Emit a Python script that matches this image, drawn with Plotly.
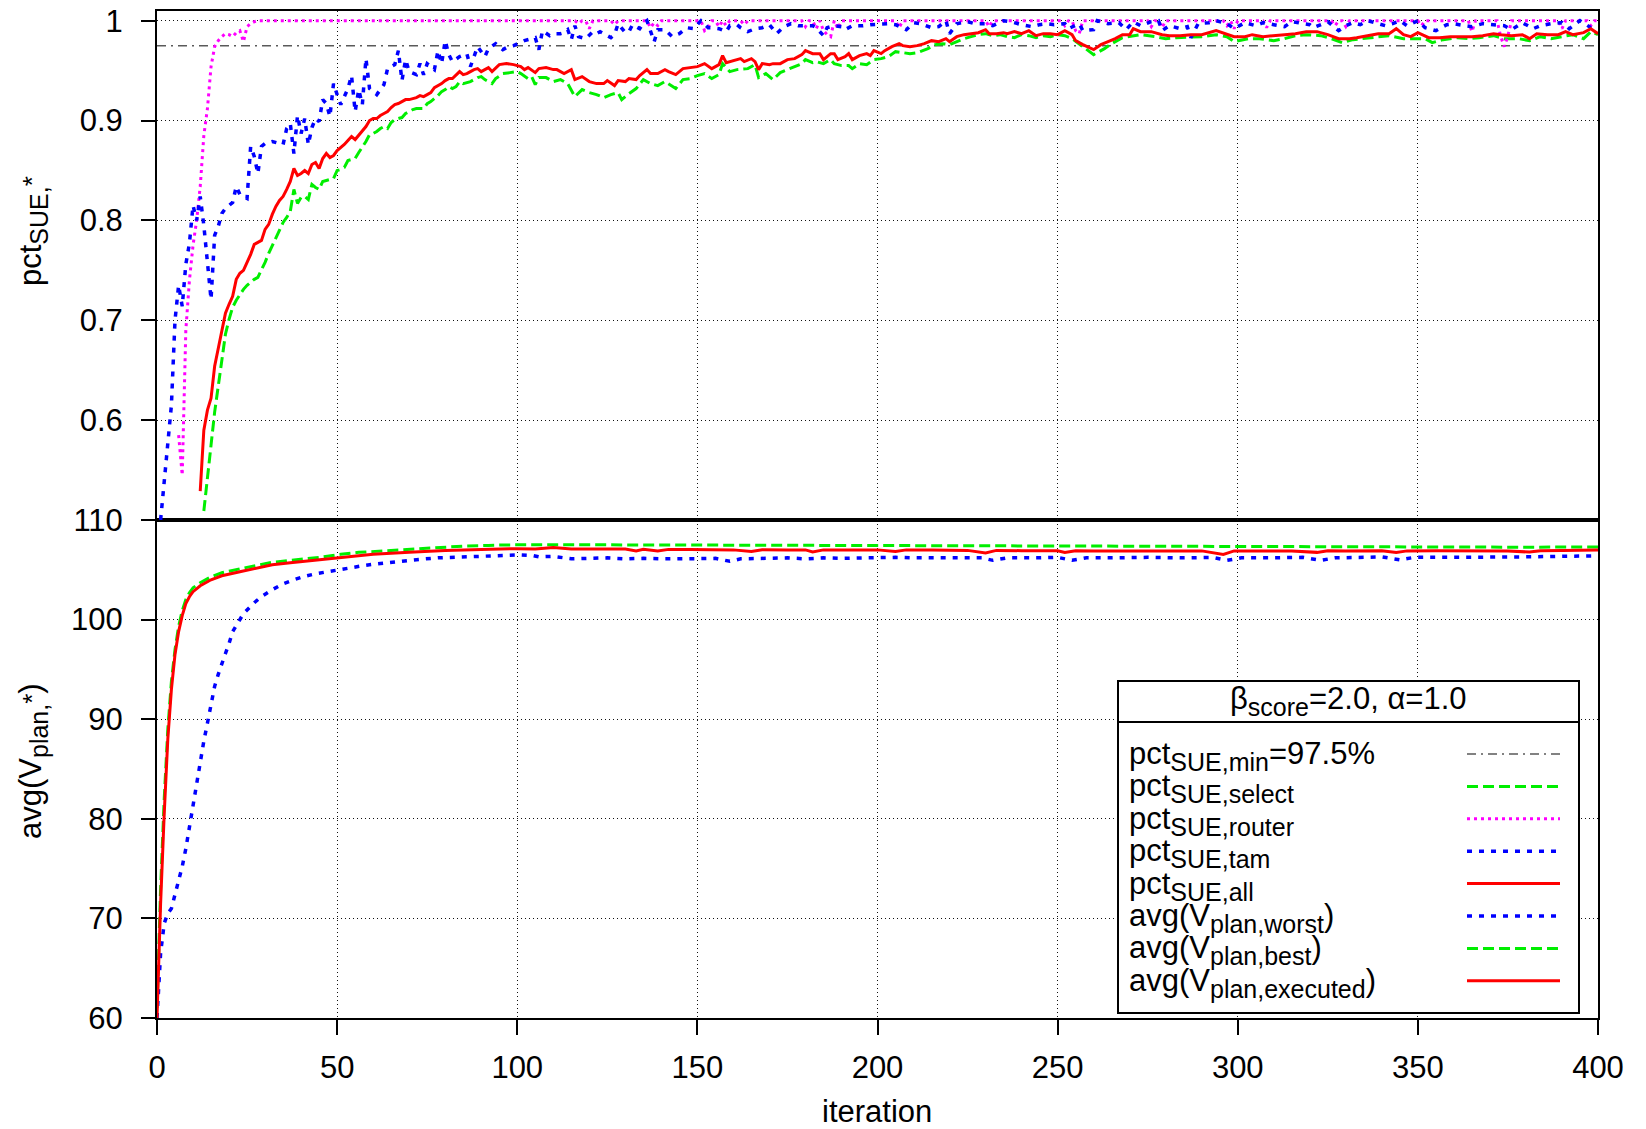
import plotly.graph_objects as go

# ---------------- data ----------------
pct_min = 0.975

iter_tam = [1,2,3,4,5,6,7,8,9,10,
    11,12,13,14,15,16,17,18,19,20,
    21,22,23,24,25,26,27,28,29,30,
    32,34,35,36,37,38,39,40,41,42,
    43,44,45,46,47,48,49,50,51,52,
    53,54,55,56,57,58,59,61,63,64,
    66,67,68,69,70,72,73,74,75,77,
    78,79,80,81,82,84,86,87,89,91,
    92,94,96,97,99,102,104,105,106,107,
    109,110,112,113,114,115,116,117,119,121,
    122,123,125,126,127,128,130,131,132,134,
    135,136,138,139,141,143,145,147,149,151,
    153,154,156,158,159,161,162,164,166,168,
    170,172,174,176,178,180,182,183,185,186,
    188,190,191,193,196,198,201,203,205,208,
    210,212,215,217,219,220,222,225,227,230,
    232,235,237,240,243,245,247,249,252,253,
    256,257,260,261,264,267,269,271,273,276,
    278,279,281,284,286,287,289,292,294,297,
    299,302,305,307,310,313,315,318,320,321,
    323,325,328,330,332,334,336,339,341,343,
    345,347,350,352,355,358,360,363,365,368,
    371,374,376,379,382,384,387,390,392,395,
    398,400]
pct_tam = [0.500,0.541,0.577,0.615,0.700,0.735,0.714,0.756,0.777,0.815,
    0.800,0.824,0.795,0.761,0.721,0.785,0.794,0.807,0.812,0.815,
    0.818,0.834,0.826,0.824,0.822,0.874,0.864,0.847,0.874,0.877,
    0.879,0.877,0.876,0.892,0.897,0.867,0.905,0.887,0.902,0.876,
    0.893,0.902,0.899,0.921,0.917,0.904,0.937,0.926,0.916,0.924,
    0.932,0.945,0.909,0.931,0.916,0.962,0.932,0.926,0.936,0.952,
    0.956,0.970,0.940,0.961,0.949,0.946,0.957,0.946,0.957,0.951,
    0.970,0.957,0.980,0.966,0.959,0.964,0.967,0.954,0.974,0.964,
    0.972,0.977,0.971,0.973,0.975,0.980,0.982,0.983,0.971,0.990,
    0.985,0.987,0.987,0.988,0.991,0.981,0.995,0.984,0.982,0.989,
    0.987,0.989,0.985,0.983,0.986,0.997,0.988,0.989,0.996,0.992,
    0.997,1.000,0.979,0.991,0.991,0.984,0.987,0.993,0.992,1.000,
    0.993,0.993,0.992,0.989,0.995,0.996,0.993,0.989,0.992,0.993,
    0.996,0.987,0.994,0.997,0.995,0.995,0.995,0.993,0.985,0.993,
    0.995,0.994,0.991,0.995,0.995,0.996,0.997,0.997,0.996,0.991,
    0.998,0.997,0.993,0.994,1.000,0.987,0.997,0.999,0.997,0.997,
    0.995,1.000,0.999,0.996,0.994,0.996,0.997,0.996,0.997,0.992,
    0.997,0.990,0.991,1.000,0.997,0.998,0.991,0.999,0.995,0.999,
    1.000,0.990,0.995,0.992,0.994,0.983,0.997,0.998,1.000,0.997,
    0.992,0.998,0.995,0.998,0.996,0.994,0.999,0.997,0.996,0.993,
    0.996,0.999,0.990,0.995,0.998,0.996,1.000,0.997,0.995,0.997,
    1.000,0.995,1.000,0.993,0.990,0.996,0.997,0.995,0.994,0.997,
    0.996,0.995,0.991,0.998,0.992,0.995,0.997,0.998,0.992,1.000,
    0.993,0.995]

iter_router = [6,7,8,9,10,11,12,13,14,15,16,17,18,19,20,21,22,23,24,25,26,27,28,
    116,117,118,119,120,121, 126,127,128, 136,137,138,139,140,
    151,152,153,154,155,156,157,158,159, 162,163,164,
    179,180,181,182,183,184,185,186,187,188,189,190,
    205,206,207, 230,231,232, 251,252,253,254,255,256,257,258,
    275,276,277,278,279,280, 295,296,297,298,299,300, 307,308,309,
    326,327,328,329,330,331,332, 350,351,352, 364,365,366,
    371,372,373,374,375,376,377, 389,390,391, 397,398,399,400]
pct_router = [0.585,0.545,0.690,0.740,0.775,0.800,0.834,0.885,0.912,0.954,0.974,0.980,0.984,0.987,0.986,0.984,0.988,0.990,0.979,0.994,0.997,0.999,1.0,
    1.0,0.997,1.0,1.0,0.992,1.0, 1.0,0.996,1.0, 1.0,0.993,0.998,0.995,1.0,
    1.0,0.990,0.993,1.0,1.0,0.994,1.0,0.995,1.0, 1.0,0.996,1.0,
    1.0,0.994,1.0,1.0,0.992,1.0,0.990,0.986,0.984,1.0,0.992,1.0,
    1.0,0.993,1.0, 1.0,0.994,1.0, 1.0,0.995,1.0,1.0,0.990,0.987,1.0,1.0,
    1.0,0.994,1.0,1.0,0.993,1.0, 1.0,1.0,0.995,1.0,0.992,1.0, 1.0,0.993,1.0,
    1.0,0.995,1.0,1.0,0.994,1.0,1.0, 1.0,0.995,1.0, 1.0,0.989,1.0,
    1.0,1.0,0.984,0.974,0.985,1.0,1.0, 1.0,0.992,1.0, 1.0,0.995,1.0,1.0]

iter_all = [12,13,14,15,16,17,18,19,20,21,
    22,23,24,25,26,27,28,29,30,31,
    32,33,34,35,36,37,38,39,40,41,
    42,43,44,45,46,47,48,49,50,51,
    52,53,54,55,56,57,58,59,60,61,
    62,63,64,65,66,67,68,69,70,71,
    72,73,74,75,76,77,78,79,80,81,
    82,83,84,85,86,87,88,89,90,91,
    92,93,95,97,99,101,102,103,105,106,
    108,110,111,113,115,116,118,120,122,124,
    125,127,128,130,131,133,134,136,137,139,
    141,142,144,146,148,150,152,154,156,157,
    158,160,162,163,165,166,167,168,170,171,
    173,175,177,179,180,182,184,185,187,188,
    189,191,192,193,195,197,198,199,201,202,
    204,206,207,209,211,213,215,217,219,220,
    222,224,226,228,230,231,233,235,236,238,
    240,242,244,246,248,250,252,254,255,257,
    260,262,264,266,268,270,271,273,276,279,
    281,284,287,290,294,297,299,302,304,307,
    311,313,316,319,322,325,328,331,333,336,
    339,342,344,346,348,350,353,356,359,362,
    365,368,371,373,376,379,381,383,386,389,
    391,393,396,398,400]
pct_all = [0.529,0.590,0.610,0.622,0.654,0.672,0.692,0.707,0.716,0.724,
    0.741,0.747,0.750,0.758,0.766,0.776,0.778,0.780,0.791,0.796,
    0.806,0.814,0.820,0.824,0.831,0.839,0.852,0.845,0.847,0.850,
    0.847,0.856,0.858,0.852,0.862,0.867,0.863,0.865,0.870,0.873,
    0.876,0.880,0.884,0.881,0.885,0.889,0.894,0.900,0.902,0.902,
    0.905,0.907,0.909,0.913,0.916,0.917,0.919,0.921,0.921,0.922,
    0.923,0.925,0.924,0.926,0.928,0.933,0.935,0.937,0.940,0.942,
    0.942,0.946,0.949,0.946,0.947,0.949,0.951,0.952,0.949,0.951,
    0.953,0.949,0.956,0.957,0.956,0.954,0.951,0.953,0.948,0.952,
    0.953,0.951,0.951,0.947,0.951,0.941,0.944,0.939,0.937,0.937,
    0.940,0.935,0.940,0.939,0.942,0.941,0.945,0.951,0.947,0.947,
    0.951,0.949,0.946,0.952,0.953,0.954,0.957,0.952,0.956,0.965,
    0.958,0.960,0.962,0.959,0.962,0.959,0.951,0.957,0.956,0.957,
    0.957,0.961,0.962,0.966,0.970,0.967,0.967,0.961,0.967,0.967,
    0.961,0.964,0.967,0.961,0.965,0.967,0.965,0.970,0.967,0.970,
    0.974,0.977,0.975,0.974,0.975,0.977,0.980,0.979,0.982,0.979,
    0.984,0.986,0.987,0.988,0.991,0.987,0.987,0.988,0.987,0.989,
    0.987,0.990,0.985,0.987,0.987,0.986,0.990,0.986,0.980,0.976,
    0.971,0.976,0.979,0.982,0.986,0.986,0.992,0.989,0.989,0.986,
    0.985,0.985,0.986,0.986,0.990,0.986,0.984,0.984,0.986,0.984,
    0.985,0.986,0.987,0.989,0.989,0.986,0.982,0.982,0.983,0.985,
    0.987,0.987,0.992,0.986,0.984,0.988,0.983,0.983,0.984,0.984,
    0.984,0.985,0.987,0.986,0.985,0.986,0.982,0.987,0.986,0.986,
    0.989,0.986,0.988,0.992,0.987]

iter_select = [13,14,15,16,17,18,19,20,21,22,
    23,24,25,26,27,28,29,30,31,32,
    33,34,35,36,37,38,39,40,41,42,
    43,44,45,46,47,48,49,50,51,52,
    53,54,55,56,57,58,59,60,61,62,
    63,64,65,66,67,68,69,70,71,72,
    73,74,75,76,77,78,79,80,81,82,
    83,84,85,86,87,88,89,90,91,92,
    93,94,96,98,100,101,103,104,105,106,
    108,110,112,114,116,118,120,122,124,126,
    128,129,131,133,135,137,139,141,144,146,
    148,150,152,154,156,157,159,161,164,166,
    167,169,171,173,175,177,179,180,182,183,
    185,187,188,190,192,193,195,197,199,201,
    203,205,207,209,211,213,214,216,218,220,
    222,224,226,228,230,232,234,236,238,240,
    242,244,246,248,250,252,254,257,260,263,
    265,268,271,273,277,280,283,287,290,294,
    297,299,303,306,310,313,316,319,323,326,
    329,332,335,339,342,346,349,352,354,357,
    361,364,367,371,374,378,381,384,387,390,
    393,396,398,400]
pct_select = [0.509,0.545,0.575,0.608,0.635,0.663,0.686,0.701,0.713,0.720,
    0.726,0.731,0.735,0.738,0.741,0.743,0.750,0.758,0.767,0.775,
    0.782,0.791,0.798,0.803,0.809,0.831,0.817,0.823,0.824,0.821,
    0.836,0.833,0.831,0.839,0.840,0.841,0.842,0.850,0.851,0.853,
    0.860,0.861,0.862,0.868,0.873,0.879,0.886,0.887,0.889,0.892,
    0.894,0.892,0.898,0.901,0.902,0.903,0.907,0.909,0.911,0.912,
    0.912,0.912,0.917,0.919,0.922,0.925,0.929,0.931,0.934,0.932,
    0.934,0.939,0.937,0.938,0.939,0.941,0.943,0.944,0.941,0.939,
    0.937,0.942,0.947,0.948,0.949,0.947,0.942,0.944,0.936,0.943,
    0.943,0.939,0.941,0.937,0.924,0.931,0.928,0.926,0.923,0.926,
    0.928,0.921,0.927,0.932,0.941,0.937,0.935,0.939,0.932,0.941,
    0.942,0.945,0.947,0.942,0.946,0.957,0.949,0.951,0.952,0.956,
    0.943,0.947,0.941,0.948,0.951,0.954,0.957,0.961,0.958,0.959,
    0.957,0.961,0.957,0.955,0.955,0.952,0.957,0.956,0.961,0.962,
    0.964,0.969,0.968,0.967,0.968,0.971,0.972,0.976,0.977,0.976,
    0.979,0.982,0.984,0.986,0.987,0.985,0.986,0.984,0.983,0.986,
    0.985,0.983,0.985,0.984,0.986,0.985,0.982,0.974,0.966,0.972,
    0.977,0.983,0.985,0.986,0.984,0.982,0.983,0.984,0.984,0.986,
    0.984,0.979,0.982,0.982,0.980,0.982,0.985,0.986,0.985,0.982,
    0.978,0.981,0.982,0.984,0.985,0.982,0.982,0.982,0.978,0.981,
    0.983,0.982,0.983,0.985,0.982,0.982,0.980,0.984,0.982,0.984,
    0.986,0.982,0.989,0.986]

iter_exec = [0,1,2,3,4,5,6,7,8,9,10,
    12,15,18,23,28,32,37,42,46,51,60,70,80,90,97,
    100,105,110,115,120,125,130,133,135,139,
    142,148,155,160,165,168,175,180,182,185,
    190,195,200,205,208,215,220,225,230,233,
    240,245,250,252,255,260,270,280,290,296,
    299,305,310,315,322,325,330,335,340,344,
    347,355,360,370,375,381,384,390,395,400]
v_exec = [60.0,71.5,80.5,88.0,93.0,96.5,98.8,100.4,101.6,102.3,102.8,
    103.4,104.0,104.4,104.8,105.2,105.5,105.7,105.9,106.05,106.25,106.55,106.75,106.95,107.05,107.12,
    107.12,107.1,107.25,107.1,107.1,107.05,107.08,106.9,107.05,106.9,
    107.05,107.05,107.05,107.0,106.85,107.02,107.0,107.0,106.8,107.0,
    107.0,106.98,107.0,106.85,107.0,106.98,107.0,106.95,106.7,106.95,
    106.92,106.9,106.92,106.75,106.92,106.9,106.92,106.9,106.9,106.55,
    106.9,106.9,106.92,106.9,106.75,106.92,106.9,106.9,106.92,106.75,
    106.9,106.92,106.9,106.92,106.9,106.78,106.92,106.95,106.95,107.0]

iter_best = [0,1,2,3,4,5,6,7,8,9,10,
    12,15,18,23,28,32,37,40,45,51,56,63,70,74,80,86,92,97,
    110,130,150,170,190,200,220,240,260,280,300,320,340,360,380,400]
v_best = [61.0,73.0,82.0,89.0,93.8,97.0,99.3,100.9,102.0,102.7,103.2,
    103.7,104.3,104.7,105.1,105.5,105.75,105.95,106.05,106.25,106.55,106.75,106.9,107.05,107.2,107.3,107.4,107.45,107.5,
    107.52,107.5,107.5,107.48,107.45,107.42,107.4,107.4,107.38,107.35,107.3,107.3,107.28,107.25,107.27,107.3]

iter_worst = [0,1,2,3,4,5,6,7,8,9,10,11,12,13,14,15,16,17,18,19,20,21,22,
    24,27,29,32,35,38,41,44,47,50,
    54,57,60,66,72,78,85,92,97,101,
    104,106,110,115,120,125,130,135,140,145,
    150,155,159,162,168,175,180,185,190,195,
    200,205,210,215,220,225,229,232,236,245,
    250,254,258,265,275,285,293,297,301,310,
    318,323,327,335,340,345,349,360,370,380,
    390,400]
v_worst = [60.0,66.5,69.5,70.5,71.0,72.3,73.8,75.2,77.0,79.2,81.2,83.8,86.0,87.8,89.6,91.6,93.3,94.5,95.7,96.6,97.6,98.8,99.4,
    100.6,101.7,102.3,103.0,103.6,104.0,104.35,104.6,104.8,104.95,
    105.2,105.4,105.55,105.8,106.02,106.2,106.3,106.4,106.5,106.5,
    106.45,106.3,106.35,106.1,106.15,106.2,106.1,106.15,106.1,106.15,
    106.12,106.15,105.85,106.1,106.15,106.2,106.1,106.2,106.15,106.2,
    106.2,106.25,106.2,106.2,106.2,106.25,106.2,105.95,106.2,106.2,
    106.25,105.95,106.2,106.2,106.25,106.2,106.25,105.95,106.2,106.2,
    106.25,105.95,106.2,106.25,106.3,106.0,106.25,106.25,106.25,106.3,
    106.35,106.4]

x_ticks = [0, 50, 100, 150, 200, 250, 300, 350, 400]
top_ticks = [0.6, 0.7, 0.8, 0.9, 1.0]
top_ticktext = ["0.6", "0.7", "0.8", "0.9", "1"]
bot_ticks = [60, 70, 80, 90, 100, 110]

SUB = '<sub><span style="font-size:25px">%s</span></sub>'
STAR = '<span style="font-size:26px">*</span>'
legend_title = "β" + SUB % "score" + "=2.0, α=1.0"
legend_labels = ["pct" + SUB % "SUE,min" + "=97.5%", "pct" + SUB % "SUE,select",
                 "pct" + SUB % "SUE,router", "pct" + SUB % "SUE,tam", "pct" + SUB % "SUE,all",
                 "avg(V" + SUB % "plan,worst" + ")", "avg(V" + SUB % "plan,best" + ")",
                 "avg(V" + SUB % "plan,executed" + ")"]
title_top = "pct" + SUB % "SUE," + STAR
title_bot = "avg(V" + SUB % "plan," + STAR + ")"

for a, b in [(iter_tam, pct_tam), (iter_router, pct_router), (iter_all, pct_all),
             (iter_select, pct_select), (iter_exec, v_exec), (iter_best, v_best),
             (iter_worst, v_worst)]:
    assert len(a) == len(b), (len(a), len(b))

# ---------------- styles ----------------
FONT = "Liberation Sans, Arial, Helvetica, sans-serif"
FS = 31
S_MIN = dict(color="#5a5a5a", width=1.5, dash="9px,5px,2px,5px")
S_SEL = dict(color="#00ee00", width=3, dash="11px,5px")
S_ROU = dict(color="#ff00ff", width=3, dash="3px,4px")
S_TAM = dict(color="#0000ff", width=3.5, dash="5px,7px")
S_ALL = dict(color="#ff0000", width=3)
legend_styles = [S_MIN, S_SEL, S_ROU, S_TAM, S_ALL, S_TAM, S_SEL, S_ALL]

# page is rendered with the browser's 8px body margin
PAGE_W, PAGE_H, BODY = 1646, 1129, 8
W, H = PAGE_W - BODY, PAGE_H - BODY
ML, MR, MT, MB = 157 - BODY, PAGE_W - 1598, 11 - BODY, PAGE_H - 1018
PW, PH = W - ML - MR, H - MT - MB


def px(x):  # page pixel -> paper x
    return (x - BODY - ML) / PW


def py(y):  # page pixel -> paper y
    return (H - MB - (y - BODY)) / PH


split = py(520)

fig = go.Figure()
# top panel (x2, y2)
fig.add_trace(go.Scatter(x=[x_ticks[0], x_ticks[-1]], y=[pct_min, pct_min], mode="lines",
                         line=S_MIN, xaxis="x2", yaxis="y2"))
fig.add_trace(go.Scatter(x=iter_select, y=pct_select, mode="lines", line=S_SEL, xaxis="x2", yaxis="y2"))
fig.add_trace(go.Scatter(x=iter_router, y=pct_router, mode="lines", line=S_ROU, xaxis="x2", yaxis="y2"))
fig.add_trace(go.Scatter(x=iter_tam, y=pct_tam, mode="lines", line=S_TAM, xaxis="x2", yaxis="y2"))
fig.add_trace(go.Scatter(x=iter_all, y=pct_all, mode="lines", line=S_ALL, xaxis="x2", yaxis="y2"))
# bottom panel (x, y)
fig.add_trace(go.Scatter(x=iter_worst, y=v_worst, mode="lines", line=S_TAM, xaxis="x", yaxis="y"))
fig.add_trace(go.Scatter(x=iter_best, y=v_best, mode="lines", line=S_SEL, xaxis="x", yaxis="y"))
fig.add_trace(go.Scatter(x=iter_exec, y=v_exec, mode="lines", line=S_ALL, xaxis="x", yaxis="y"))

grid = dict(showgrid=True, gridcolor="#111111", gridwidth=1, griddash="1px,3px",
            zeroline=False, showline=True, linecolor="black", linewidth=2, mirror=True,
            automargin=False)
tickfont = dict(family=FONT, size=FS, color="black")

fig.update_layout(
    width=W, height=H, margin=dict(l=ML, r=MR, t=MT, b=MB, autoexpand=False),
    paper_bgcolor="white", plot_bgcolor="white", showlegend=False,
    font=dict(family=FONT, size=FS, color="black"),
    xaxis=dict(domain=[0, 1], anchor="y", range=[0, 400], tickvals=x_ticks,
               ticks="outside", ticklen=15, tickwidth=2, tickcolor="black",
               tickfont=tickfont, ticklabelstandoff=6, ticklabeloverflow="allow", **grid),
    xaxis2=dict(domain=[0, 1], anchor="y2", range=[0, 400], matches="x", tickvals=x_ticks,
                showticklabels=False, ticks="", **grid),
    yaxis=dict(domain=[0, split], anchor="x", range=[60, 110], tickvals=bot_ticks,
               ticks="outside", ticklen=14, tickwidth=2, tickcolor="black",
               tickfont=tickfont, ticklabelstandoff=12, ticklabeloverflow="allow", **grid),
    yaxis2=dict(domain=[split, 1], anchor="x2", range=[0.5, 1.0097], tickvals=top_ticks,
                ticktext=top_ticktext, ticks="outside", ticklen=14, tickwidth=2,
                tickcolor="black", tickfont=tickfont, ticklabelstandoff=12,
                ticklabeloverflow="allow", **grid),
)

ann = []
# axis titles
ann.append(dict(text=title_top, x=px(33), y=py(231), xref="paper", yref="paper",
                textangle=-90, showarrow=False, xanchor="center", yanchor="middle",
                font=dict(family=FONT, size=FS)))
ann.append(dict(text=title_bot, x=px(33), y=py(761), xref="paper", yref="paper",
                textangle=-90, showarrow=False, xanchor="center", yanchor="middle",
                font=dict(family=FONT, size=FS)))
ann.append(dict(text="iteration", x=px(877), y=py(1111), xref="paper", yref="paper",
                showarrow=False, xanchor="center", yanchor="middle",
                font=dict(family=FONT, size=FS)))

# legend box
LX0, LX1, LY0, LY1, LSEP = 1118, 1579, 681, 1013, 722
shapes = [dict(type="rect", xref="paper", yref="paper", x0=px(LX0), x1=px(LX1), y0=py(LY1), y1=py(LY0),
               line=dict(color="black", width=2), fillcolor="white", layer="above"),
          dict(type="line", xref="paper", yref="paper", x0=px(LX0), x1=px(LX1), y0=py(LSEP), y1=py(LSEP),
               line=dict(color="black", width=2), layer="above")]
ann.append(dict(text=legend_title, x=px((LX0 + LX1) / 2), y=py(701), xref="paper", yref="paper",
                showarrow=False, xanchor="center", yanchor="middle", font=dict(family=FONT, size=FS)))
ROW0, DROW = 754, 32.4
for i, (lab, st) in enumerate(zip(legend_labels, legend_styles)):
    yy = ROW0 + i * DROW
    shapes.append(dict(type="line", xref="paper", yref="paper", x0=px(1467), x1=px(1560),
                       y0=py(yy), y1=py(yy), line=st, layer="above"))
    ann.append(dict(text=lab, x=px(1127), y=py(yy + 2), xref="paper", yref="paper",
                    showarrow=False, xanchor="left", yanchor="middle",
                    font=dict(family=FONT, size=FS)))

fig.update_layout(shapes=shapes, annotations=ann)
fig.write_html("out.html")
